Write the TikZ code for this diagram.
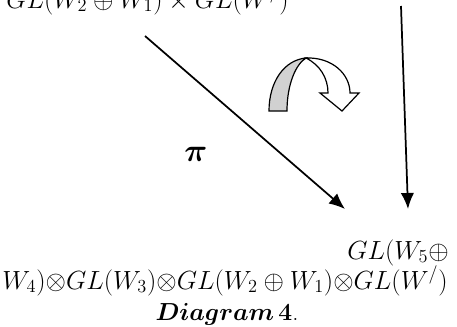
\RequirePackage{fix-cm}
\documentclass[tikz,border=0pt]{standalone}
\usepackage{amsmath,amssymb}
\usepackage{bm}
\usetikzlibrary{arrows.meta}

\begin{document}
\begin{tikzpicture}[x=0.75pt,y=-0.75pt,
  txt/.style={font=\fontsize{19.7}{23}\selectfont,inner sep=0pt},
  arr/.style={line width=1.3pt,-{Latex[length=12pt,width=10pt]}}]
 \useasboundingbox (0,0) rectangle (457,326);
 \node[txt,anchor=base west] (top) at (6,8)
   {$GL(W_2\oplus W_1)\times GL(W^{/})$};
 \coordinate (pistart) at (145,36);
 \coordinate (piend) at (345,209);
 \coordinate (vstart) at (401,6);
 \coordinate (vend) at (408,209);
 \draw[arr] (pistart) -- (piend);
 \draw[arr] (vstart) -- (vend);
 \node[txt,font=\fontsize{24}{28}\selectfont] (pi) at (196,154) {$\bm{\pi}$};
 \filldraw[fill=black!18,line width=0.9pt]
   (269,111) .. controls (269,82) and (284,60) .. (306,58)
   .. controls (296,64) and (287,84) .. (287,111) -- cycle;
 \filldraw[fill=white,line width=0.9pt]
   (306,58) .. controls (332,57) and (350,74) .. (350,93)
   -- (359,93) -- (342,111) -- (320,93) -- (328,93)
   .. controls (328,78) and (320,65) .. (306,58) -- cycle;
 \node[txt,anchor=base east] (gl1) at (449,259) {$GL(W_5\oplus$};
 \node[txt,anchor=base] (gl2) at (225,289)
   {$W_4){\otimes}GL(W_3){\otimes}GL(W_2\oplus W_1){\otimes}GL(W^{/})$};
 \node[txt,font=\fontsize{18.5}{22}\selectfont,anchor=base] (cap) at (227,320)
   {$\bm{Diagram}\,\mathbf{4}$.};
\end{tikzpicture}
\end{document}
